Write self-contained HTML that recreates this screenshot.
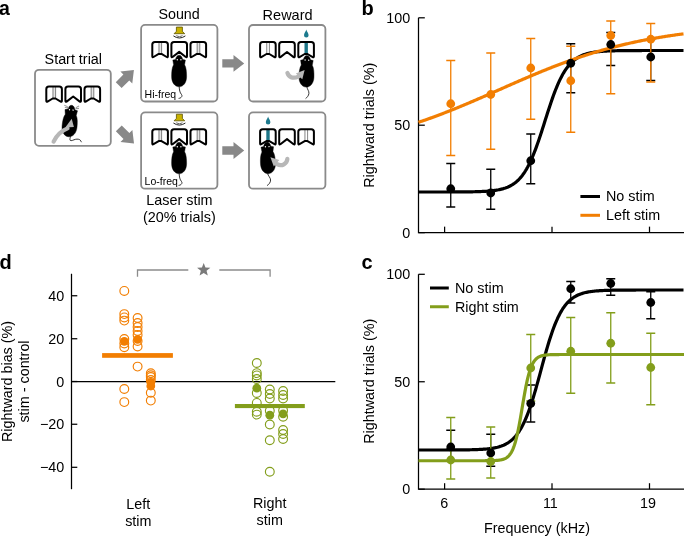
<!DOCTYPE html>
<html><head><meta charset="utf-8"><style>
html,body{margin:0;padding:0;background:#fff;overflow:hidden;}
svg{display:block;will-change:transform;}
text{font-family:"Liberation Sans",sans-serif;fill:#000;}
</style></head><body>
<svg width="685" height="536" viewBox="0 0 685 536">

<text x="-1.0" y="14.6" font-size="19.5" text-anchor="start" font-weight="bold" >a</text>
<text x="361.5" y="14.6" font-size="20" text-anchor="start" font-weight="bold" >b</text>
<text x="361.5" y="269.2" font-size="20" text-anchor="start" font-weight="bold" >c</text>
<text x="-0.5" y="269.0" font-size="20" text-anchor="start" font-weight="bold" >d</text>
<path d="M418.5,17.8V232.65H684" stroke="#000" stroke-width="1.25" fill="none"/>
<path d="M418.5,17.8H424.8" stroke="#000" stroke-width="1.25"/>
<path d="M418.5,125.2H424.8" stroke="#000" stroke-width="1.25"/>
<path d="M418.5,232.65H424.8" stroke="#000" stroke-width="1.25"/>
<path d="M444.6,232.65V226.65" stroke="#000" stroke-width="1.25"/>
<path d="M552.0,232.65V226.65" stroke="#000" stroke-width="1.25"/>
<path d="M649.5,232.65V226.65" stroke="#000" stroke-width="1.25"/>
<text x="410.2" y="22.8" font-size="14.35" text-anchor="end" font-weight="normal" >100</text>
<text x="410.2" y="130.2" font-size="14.35" text-anchor="end" font-weight="normal" >50</text>
<text x="410.2" y="237.65" font-size="14.35" text-anchor="end" font-weight="normal" >0</text>
<text transform="translate(373.8,125.3) rotate(-90)" font-size="14.35" text-anchor="middle">Rightward trials (%)</text>
<path d="M450.75,163.5V207M446.25,163.5H455.25M446.25,207H455.25" stroke="#000" stroke-width="1.3" fill="none"/>
<path d="M490.75,169.25V209.25M486.25,169.25H495.25M486.25,209.25H495.25" stroke="#000" stroke-width="1.3" fill="none"/>
<path d="M530.75,134V183.75M526.25,134H535.25M526.25,183.75H535.25" stroke="#000" stroke-width="1.3" fill="none"/>
<path d="M570.75,43.75V92.75M566.25,43.75H575.25M566.25,92.75H575.25" stroke="#000" stroke-width="1.3" fill="none"/>
<path d="M610.75,32.5V65.5M606.25,32.5H615.25M606.25,65.5H615.25" stroke="#000" stroke-width="1.3" fill="none"/>
<path d="M650.75,39.5V80.5M646.25,39.5H655.25M646.25,80.5H655.25" stroke="#000" stroke-width="1.3" fill="none"/>
<polyline points="418.5,192.00 419.5,192.00 420.5,192.00 421.5,192.00 422.5,192.00 423.5,192.00 424.5,192.00 425.5,192.00 426.5,192.00 427.5,192.00 428.5,192.00 429.5,192.00 430.5,191.99 431.5,191.99 432.5,191.99 433.5,191.99 434.5,191.99 435.5,191.99 436.5,191.99 437.5,191.99 438.5,191.99 439.5,191.99 440.5,191.99 441.5,191.99 442.5,191.98 443.5,191.98 444.5,191.98 445.5,191.98 446.5,191.98 447.5,191.98 448.5,191.97 449.5,191.97 450.5,191.97 451.5,191.97 452.5,191.96 453.5,191.96 454.5,191.96 455.5,191.95 456.5,191.95 457.5,191.94 458.5,191.94 459.5,191.93 460.5,191.93 461.5,191.92 462.5,191.91 463.5,191.90 464.5,191.89 465.5,191.88 466.5,191.87 467.5,191.86 468.5,191.85 469.5,191.83 470.5,191.82 471.5,191.80 472.5,191.78 473.5,191.76 474.5,191.74 475.5,191.71 476.5,191.69 477.5,191.66 478.5,191.63 479.5,191.59 480.5,191.55 481.5,191.51 482.5,191.47 483.5,191.42 484.5,191.36 485.5,191.30 486.5,191.24 487.5,191.17 488.5,191.09 489.5,191.01 490.5,190.91 491.5,190.81 492.5,190.70 493.5,190.58 494.5,190.45 495.5,190.31 496.5,190.15 497.5,189.98 498.5,189.80 499.5,189.59 500.5,189.37 501.5,189.13 502.5,188.87 503.5,188.59 504.5,188.27 505.5,187.94 506.5,187.57 507.5,187.17 508.5,186.73 509.5,186.26 510.5,185.75 511.5,185.19 512.5,184.59 513.5,183.93 514.5,183.23 515.5,182.46 516.5,181.64 517.5,180.75 518.5,179.78 519.5,178.75 520.5,177.64 521.5,176.44 522.5,175.16 523.5,173.79 524.5,172.32 525.5,170.76 526.5,169.09 527.5,167.33 528.5,165.45 529.5,163.47 530.5,161.38 531.5,159.18 532.5,156.88 533.5,154.46 534.5,151.95 535.5,149.33 536.5,146.62 537.5,143.83 538.5,140.95 539.5,138.00 540.5,134.98 541.5,131.92 542.5,128.81 543.5,125.67 544.5,122.51 545.5,119.35 546.5,116.20 547.5,113.07 548.5,109.97 549.5,106.91 550.5,103.91 551.5,100.97 552.5,98.11 553.5,95.33 554.5,92.64 555.5,90.04 556.5,87.54 557.5,85.15 558.5,82.87 559.5,80.69 560.5,78.62 561.5,76.66 562.5,74.81 563.5,73.06 564.5,71.42 565.5,69.88 566.5,68.43 567.5,67.08 568.5,65.81 569.5,64.64 570.5,63.54 571.5,62.52 572.5,61.57 573.5,60.69 574.5,59.88 575.5,59.13 576.5,58.43 577.5,57.79 578.5,57.19 579.5,56.65 580.5,56.14 581.5,55.68 582.5,55.25 583.5,54.86 584.5,54.49 585.5,54.16 586.5,53.86 587.5,53.58 588.5,53.32 589.5,53.08 590.5,52.86 591.5,52.67 592.5,52.48 593.5,52.32 594.5,52.16 595.5,52.02 596.5,51.89 597.5,51.77 598.5,51.67 599.5,51.57 600.5,51.48 601.5,51.39 602.5,51.32 603.5,51.25 604.5,51.18 605.5,51.13 606.5,51.07 607.5,51.02 608.5,50.98 609.5,50.94 610.5,50.90 611.5,50.87 612.5,50.84 613.5,50.81 614.5,50.78 615.5,50.76 616.5,50.74 617.5,50.71 618.5,50.70 619.5,50.68 620.5,50.66 621.5,50.65 622.5,50.64 623.5,50.63 624.5,50.62 625.5,50.61 626.5,50.60 627.5,50.59 628.5,50.58 629.5,50.57 630.5,50.57 631.5,50.56 632.5,50.56 633.5,50.55 634.5,50.55 635.5,50.54 636.5,50.54 637.5,50.54 638.5,50.53 639.5,50.53 640.5,50.53 641.5,50.53 642.5,50.52 643.5,50.52 644.5,50.52 645.5,50.52 646.5,50.52 647.5,50.51 648.5,50.51 649.5,50.51 650.5,50.51 651.5,50.51 652.5,50.51 653.5,50.51 654.5,50.51 655.5,50.51 656.5,50.51 657.5,50.51 658.5,50.51 659.5,50.51 660.5,50.50 661.5,50.50 662.5,50.50 663.5,50.50 664.5,50.50 665.5,50.50 666.5,50.50 667.5,50.50 668.5,50.50 669.5,50.50 670.5,50.50 671.5,50.50 672.5,50.50 673.5,50.50 674.5,50.50 675.5,50.50 676.5,50.50 677.5,50.50 678.5,50.50 679.5,50.50 680.5,50.50 681.5,50.50 682.5,50.50 683.5,50.50" fill="none" stroke="#000" stroke-width="3.2" stroke-linejoin="round"/>
<path d="M450.75,60.5V155.5M446.25,60.5H455.25M446.25,155.5H455.25" stroke="#F27E02" stroke-width="1.3" fill="none"/>
<path d="M490.75,53V149.25M486.25,53H495.25M486.25,149.25H495.25" stroke="#F27E02" stroke-width="1.3" fill="none"/>
<path d="M530.75,38.5V119.25M526.25,38.5H535.25M526.25,119.25H535.25" stroke="#F27E02" stroke-width="1.3" fill="none"/>
<path d="M570.75,46.25V132.25M566.25,46.25H575.25M566.25,132.25H575.25" stroke="#F27E02" stroke-width="1.3" fill="none"/>
<path d="M610.75,21V93.75M606.25,21H615.25M606.25,93.75H615.25" stroke="#F27E02" stroke-width="1.3" fill="none"/>
<path d="M650.75,23.5V82M646.25,23.5H655.25M646.25,82H655.25" stroke="#F27E02" stroke-width="1.3" fill="none"/>
<polyline points="418.5,122.29 419.5,121.95 420.5,121.61 421.5,121.27 422.5,120.93 423.5,120.59 424.5,120.24 425.5,119.89 426.5,119.54 427.5,119.19 428.5,118.83 429.5,118.48 430.5,118.12 431.5,117.76 432.5,117.39 433.5,117.03 434.5,116.66 435.5,116.29 436.5,115.92 437.5,115.55 438.5,115.17 439.5,114.80 440.5,114.42 441.5,114.04 442.5,113.65 443.5,113.27 444.5,112.88 445.5,112.49 446.5,112.10 447.5,111.71 448.5,111.32 449.5,110.92 450.5,110.53 451.5,110.13 452.5,109.73 453.5,109.33 454.5,108.92 455.5,108.52 456.5,108.11 457.5,107.70 458.5,107.29 459.5,106.88 460.5,106.47 461.5,106.05 462.5,105.64 463.5,105.22 464.5,104.80 465.5,104.38 466.5,103.96 467.5,103.54 468.5,103.12 469.5,102.70 470.5,102.27 471.5,101.84 472.5,101.42 473.5,100.99 474.5,100.56 475.5,100.13 476.5,99.70 477.5,99.26 478.5,98.83 479.5,98.40 480.5,97.96 481.5,97.53 482.5,97.09 483.5,96.65 484.5,96.22 485.5,95.78 486.5,95.34 487.5,94.90 488.5,94.46 489.5,94.02 490.5,93.58 491.5,93.14 492.5,92.70 493.5,92.26 494.5,91.82 495.5,91.38 496.5,90.93 497.5,90.49 498.5,90.05 499.5,89.61 500.5,89.17 501.5,88.72 502.5,88.28 503.5,87.84 504.5,87.40 505.5,86.96 506.5,86.52 507.5,86.08 508.5,85.64 509.5,85.19 510.5,84.76 511.5,84.32 512.5,83.88 513.5,83.44 514.5,83.00 515.5,82.56 516.5,82.13 517.5,81.69 518.5,81.25 519.5,80.82 520.5,80.39 521.5,79.95 522.5,79.52 523.5,79.09 524.5,78.66 525.5,78.23 526.5,77.80 527.5,77.37 528.5,76.95 529.5,76.52 530.5,76.10 531.5,75.67 532.5,75.25 533.5,74.83 534.5,74.41 535.5,73.99 536.5,73.58 537.5,73.16 538.5,72.75 539.5,72.34 540.5,71.92 541.5,71.51 542.5,71.11 543.5,70.70 544.5,70.29 545.5,69.89 546.5,69.49 547.5,69.09 548.5,68.69 549.5,68.29 550.5,67.90 551.5,67.50 552.5,67.11 553.5,66.72 554.5,66.33 555.5,65.95 556.5,65.56 557.5,65.18 558.5,64.80 559.5,64.42 560.5,64.04 561.5,63.67 562.5,63.29 563.5,62.92 564.5,62.55 565.5,62.19 566.5,61.82 567.5,61.46 568.5,61.10 569.5,60.74 570.5,60.38 571.5,60.02 572.5,59.67 573.5,59.32 574.5,58.97 575.5,58.63 576.5,58.28 577.5,57.94 578.5,57.60 579.5,57.26 580.5,56.93 581.5,56.59 582.5,56.26 583.5,55.93 584.5,55.61 585.5,55.28 586.5,54.96 587.5,54.64 588.5,54.32 589.5,54.01 590.5,53.70 591.5,53.38 592.5,53.08 593.5,52.77 594.5,52.47 595.5,52.16 596.5,51.86 597.5,51.57 598.5,51.27 599.5,50.98 600.5,50.69 601.5,50.40 602.5,50.11 603.5,49.83 604.5,49.55 605.5,49.27 606.5,48.99 607.5,48.72 608.5,48.45 609.5,48.18 610.5,47.91 611.5,47.64 612.5,47.38 613.5,47.12 614.5,46.86 615.5,46.60 616.5,46.35 617.5,46.10 618.5,45.85 619.5,45.60 620.5,45.35 621.5,45.11 622.5,44.87 623.5,44.63 624.5,44.39 625.5,44.16 626.5,43.92 627.5,43.69 628.5,43.47 629.5,43.24 630.5,43.01 631.5,42.79 632.5,42.57 633.5,42.35 634.5,42.14 635.5,41.93 636.5,41.71 637.5,41.50 638.5,41.30 639.5,41.09 640.5,40.89 641.5,40.68 642.5,40.49 643.5,40.29 644.5,40.09 645.5,39.90 646.5,39.71 647.5,39.52 648.5,39.33 649.5,39.14 650.5,38.96 651.5,38.77 652.5,38.59 653.5,38.42 654.5,38.24 655.5,38.06 656.5,37.89 657.5,37.72 658.5,37.55 659.5,37.38 660.5,37.22 661.5,37.05 662.5,36.89 663.5,36.73 664.5,36.57 665.5,36.41 666.5,36.25 667.5,36.10 668.5,35.95 669.5,35.80 670.5,35.65 671.5,35.50 672.5,35.35 673.5,35.21 674.5,35.07 675.5,34.93 676.5,34.79 677.5,34.65 678.5,34.51 679.5,34.38 680.5,34.24 681.5,34.11 682.5,33.98 683.5,33.85" fill="none" stroke="#F27E02" stroke-width="3.2" stroke-linejoin="round"/>
<circle cx="450.75" cy="188.75" r="4.4" fill="#000"/>
<circle cx="490.75" cy="193" r="4.4" fill="#000"/>
<circle cx="530.75" cy="160.75" r="4.4" fill="#000"/>
<circle cx="570.75" cy="63.25" r="4.4" fill="#000"/>
<circle cx="610.75" cy="44.5" r="4.4" fill="#000"/>
<circle cx="650.75" cy="57" r="4.4" fill="#000"/>
<circle cx="450.75" cy="103.75" r="4.4" fill="#F27E02"/>
<circle cx="490.75" cy="94.5" r="4.4" fill="#F27E02"/>
<circle cx="530.75" cy="68" r="4.4" fill="#F27E02"/>
<circle cx="570.75" cy="80.75" r="4.4" fill="#F27E02"/>
<circle cx="610.75" cy="35.5" r="4.4" fill="#F27E02"/>
<circle cx="650.75" cy="39.25" r="4.4" fill="#F27E02"/>
<path d="M580.4,196.5H600" stroke="#000" stroke-width="3"/>
<path d="M580.4,215.3H600" stroke="#F27E02" stroke-width="3"/>
<text x="606.0" y="201.4" font-size="14.35" text-anchor="start" font-weight="normal" >No stim</text>
<text x="606.0" y="219.8" font-size="14.35" text-anchor="start" font-weight="normal" >Left stim</text>
<path d="M418.5,274.3V489.2H684" stroke="#000" stroke-width="1.25" fill="none"/>
<path d="M418.5,274.3H424.8" stroke="#000" stroke-width="1.25"/>
<path d="M418.5,381.75H424.8" stroke="#000" stroke-width="1.25"/>
<path d="M418.5,489.2H424.8" stroke="#000" stroke-width="1.25"/>
<path d="M444.6,489.2V483.2" stroke="#000" stroke-width="1.25"/>
<path d="M552.0,489.2V483.2" stroke="#000" stroke-width="1.25"/>
<path d="M649.5,489.2V483.2" stroke="#000" stroke-width="1.25"/>
<text x="410.2" y="279.3" font-size="14.35" text-anchor="end" font-weight="normal" >100</text>
<text x="410.2" y="386.75" font-size="14.35" text-anchor="end" font-weight="normal" >50</text>
<text x="410.2" y="494.2" font-size="14.35" text-anchor="end" font-weight="normal" >0</text>
<text transform="translate(373.8,381.25) rotate(-90)" font-size="14.35" text-anchor="middle">Rightward trials (%)</text>
<text x="444.2" y="508.2" font-size="14.35" text-anchor="middle" font-weight="normal" >6</text>
<text x="550.4" y="508.2" font-size="14.35" text-anchor="middle" font-weight="normal" >11</text>
<text x="648.0" y="508.2" font-size="14.35" text-anchor="middle" font-weight="normal" >19</text>
<text x="484.0" y="532.6" font-size="14.35" text-anchor="start" font-weight="normal" >Frequency (kHz)</text>
<path d="M450.75,430.25V461M446.25,430.25H455.25M446.25,461H455.25" stroke="#000" stroke-width="1.3" fill="none"/>
<path d="M490.75,434.25V466.25M486.25,434.25H495.25M486.25,466.25H495.25" stroke="#000" stroke-width="1.3" fill="none"/>
<path d="M530.75,385V422M526.25,385H535.25M526.25,422H535.25" stroke="#000" stroke-width="1.3" fill="none"/>
<path d="M570.75,281.5V303M566.25,281.5H575.25M566.25,303H575.25" stroke="#000" stroke-width="1.3" fill="none"/>
<path d="M610.75,278.75V295.25M606.25,278.75H615.25M606.25,295.25H615.25" stroke="#000" stroke-width="1.3" fill="none"/>
<path d="M650.75,291.75V318.75M646.25,291.75H655.25M646.25,318.75H655.25" stroke="#000" stroke-width="1.3" fill="none"/>
<polyline points="418.5,450.00 419.5,450.00 420.5,450.00 421.5,450.00 422.5,450.00 423.5,450.00 424.5,450.00 425.5,450.00 426.5,450.00 427.5,450.00 428.5,450.00 429.5,449.99 430.5,449.99 431.5,449.99 432.5,449.99 433.5,449.99 434.5,449.99 435.5,449.99 436.5,449.99 437.5,449.99 438.5,449.99 439.5,449.99 440.5,449.99 441.5,449.98 442.5,449.98 443.5,449.98 444.5,449.98 445.5,449.98 446.5,449.97 447.5,449.97 448.5,449.97 449.5,449.97 450.5,449.96 451.5,449.96 452.5,449.96 453.5,449.95 454.5,449.95 455.5,449.94 456.5,449.94 457.5,449.93 458.5,449.92 459.5,449.92 460.5,449.91 461.5,449.90 462.5,449.89 463.5,449.88 464.5,449.87 465.5,449.85 466.5,449.84 467.5,449.82 468.5,449.81 469.5,449.79 470.5,449.77 471.5,449.74 472.5,449.72 473.5,449.69 474.5,449.66 475.5,449.63 476.5,449.59 477.5,449.55 478.5,449.51 479.5,449.46 480.5,449.41 481.5,449.35 482.5,449.29 483.5,449.22 484.5,449.15 485.5,449.07 486.5,448.98 487.5,448.88 488.5,448.77 489.5,448.65 490.5,448.52 491.5,448.38 492.5,448.23 493.5,448.06 494.5,447.87 495.5,447.67 496.5,447.44 497.5,447.20 498.5,446.93 499.5,446.64 500.5,446.32 501.5,445.98 502.5,445.60 503.5,445.18 504.5,444.73 505.5,444.24 506.5,443.70 507.5,443.12 508.5,442.48 509.5,441.79 510.5,441.03 511.5,440.22 512.5,439.33 513.5,438.37 514.5,437.33 515.5,436.21 516.5,435.00 517.5,433.69 518.5,432.28 519.5,430.77 520.5,429.15 521.5,427.41 522.5,425.56 523.5,423.58 524.5,421.47 525.5,419.23 526.5,416.87 527.5,414.37 528.5,411.74 529.5,408.98 530.5,406.09 531.5,403.08 532.5,399.95 533.5,396.71 534.5,393.37 535.5,389.94 536.5,386.43 537.5,382.85 538.5,379.22 539.5,375.55 540.5,371.85 541.5,368.15 542.5,364.45 543.5,360.78 544.5,357.15 545.5,353.57 546.5,350.06 547.5,346.63 548.5,343.29 549.5,340.05 550.5,336.92 551.5,333.91 552.5,331.02 553.5,328.26 554.5,325.63 555.5,323.13 556.5,320.77 557.5,318.53 558.5,316.42 559.5,314.44 560.5,312.59 561.5,310.85 562.5,309.23 563.5,307.72 564.5,306.31 565.5,305.00 566.5,303.79 567.5,302.67 568.5,301.63 569.5,300.67 570.5,299.78 571.5,298.97 572.5,298.21 573.5,297.52 574.5,296.88 575.5,296.30 576.5,295.76 577.5,295.27 578.5,294.82 579.5,294.40 580.5,294.02 581.5,293.68 582.5,293.36 583.5,293.07 584.5,292.80 585.5,292.56 586.5,292.33 587.5,292.13 588.5,291.94 589.5,291.77 590.5,291.62 591.5,291.48 592.5,291.35 593.5,291.23 594.5,291.12 595.5,291.02 596.5,290.93 597.5,290.85 598.5,290.78 599.5,290.71 600.5,290.65 601.5,290.59 602.5,290.54 603.5,290.49 604.5,290.45 605.5,290.41 606.5,290.37 607.5,290.34 608.5,290.31 609.5,290.28 610.5,290.26 611.5,290.23 612.5,290.21 613.5,290.19 614.5,290.18 615.5,290.16 616.5,290.15 617.5,290.13 618.5,290.12 619.5,290.11 620.5,290.10 621.5,290.09 622.5,290.08 623.5,290.08 624.5,290.07 625.5,290.06 626.5,290.06 627.5,290.05 628.5,290.05 629.5,290.04 630.5,290.04 631.5,290.04 632.5,290.03 633.5,290.03 634.5,290.03 635.5,290.03 636.5,290.02 637.5,290.02 638.5,290.02 639.5,290.02 640.5,290.02 641.5,290.01 642.5,290.01 643.5,290.01 644.5,290.01 645.5,290.01 646.5,290.01 647.5,290.01 648.5,290.01 649.5,290.01 650.5,290.01 651.5,290.01 652.5,290.01 653.5,290.00 654.5,290.00 655.5,290.00 656.5,290.00 657.5,290.00 658.5,290.00 659.5,290.00 660.5,290.00 661.5,290.00 662.5,290.00 663.5,290.00 664.5,290.00 665.5,290.00 666.5,290.00 667.5,290.00 668.5,290.00 669.5,290.00 670.5,290.00 671.5,290.00 672.5,290.00 673.5,290.00 674.5,290.00 675.5,290.00 676.5,290.00 677.5,290.00 678.5,290.00 679.5,290.00 680.5,290.00 681.5,290.00 682.5,290.00 683.5,290.00" fill="none" stroke="#000" stroke-width="3.2" stroke-linejoin="round"/>
<path d="M450.75,417.5V479M446.25,417.5H455.25M446.25,479H455.25" stroke="#839E1B" stroke-width="1.3" fill="none"/>
<path d="M490.75,427V478M486.25,427H495.25M486.25,478H495.25" stroke="#839E1B" stroke-width="1.3" fill="none"/>
<path d="M530.75,334.5V401M526.25,334.5H535.25M526.25,401H535.25" stroke="#839E1B" stroke-width="1.3" fill="none"/>
<path d="M570.75,317.5V393.25M566.25,317.5H575.25M566.25,393.25H575.25" stroke="#839E1B" stroke-width="1.3" fill="none"/>
<path d="M610.75,312.75V383M606.25,312.75H615.25M606.25,383H615.25" stroke="#839E1B" stroke-width="1.3" fill="none"/>
<path d="M650.75,333.25V404.75M646.25,333.25H655.25M646.25,404.75H655.25" stroke="#839E1B" stroke-width="1.3" fill="none"/>
<polyline points="418.5,460.75 419.0,460.75 419.5,460.75 420.0,460.75 420.5,460.75 421.0,460.75 421.5,460.75 422.0,460.75 422.5,460.75 423.0,460.75 423.5,460.75 424.0,460.75 424.5,460.75 425.0,460.75 425.5,460.75 426.0,460.75 426.5,460.75 427.0,460.75 427.5,460.75 428.0,460.75 428.5,460.75 429.0,460.75 429.5,460.75 430.0,460.75 430.5,460.75 431.0,460.75 431.5,460.75 432.0,460.75 432.5,460.75 433.0,460.75 433.5,460.75 434.0,460.75 434.5,460.75 435.0,460.75 435.5,460.75 436.0,460.75 436.5,460.75 437.0,460.75 437.5,460.75 438.0,460.75 438.5,460.75 439.0,460.75 439.5,460.75 440.0,460.75 440.5,460.75 441.0,460.75 441.5,460.75 442.0,460.75 442.5,460.75 443.0,460.75 443.5,460.75 444.0,460.75 444.5,460.75 445.0,460.75 445.5,460.75 446.0,460.75 446.5,460.75 447.0,460.75 447.5,460.75 448.0,460.75 448.5,460.75 449.0,460.75 449.5,460.75 450.0,460.75 450.5,460.75 451.0,460.75 451.5,460.75 452.0,460.75 452.5,460.75 453.0,460.75 453.5,460.75 454.0,460.75 454.5,460.75 455.0,460.75 455.5,460.75 456.0,460.75 456.5,460.75 457.0,460.75 457.5,460.75 458.0,460.75 458.5,460.75 459.0,460.75 459.5,460.75 460.0,460.75 460.5,460.75 461.0,460.75 461.5,460.75 462.0,460.75 462.5,460.75 463.0,460.75 463.5,460.75 464.0,460.75 464.5,460.75 465.0,460.75 465.5,460.75 466.0,460.75 466.5,460.75 467.0,460.75 467.5,460.75 468.0,460.75 468.5,460.75 469.0,460.75 469.5,460.75 470.0,460.75 470.5,460.75 471.0,460.75 471.5,460.75 472.0,460.75 472.5,460.75 473.0,460.75 473.5,460.75 474.0,460.75 474.5,460.75 475.0,460.75 475.5,460.75 476.0,460.75 476.5,460.75 477.0,460.75 477.5,460.75 478.0,460.74 478.5,460.74 479.0,460.74 479.5,460.74 480.0,460.74 480.5,460.74 481.0,460.74 481.5,460.74 482.0,460.74 482.5,460.74 483.0,460.73 483.5,460.73 484.0,460.73 484.5,460.73 485.0,460.73 485.5,460.72 486.0,460.72 486.5,460.72 487.0,460.71 487.5,460.71 488.0,460.70 488.5,460.70 489.0,460.69 489.5,460.68 490.0,460.67 490.5,460.67 491.0,460.66 491.5,460.64 492.0,460.63 492.5,460.62 493.0,460.60 493.5,460.58 494.0,460.56 494.5,460.54 495.0,460.52 495.5,460.49 496.0,460.46 496.5,460.43 497.0,460.39 497.5,460.34 498.0,460.30 498.5,460.24 499.0,460.18 499.5,460.11 500.0,460.04 500.5,459.95 501.0,459.86 501.5,459.76 502.0,459.64 502.5,459.51 503.0,459.36 503.5,459.20 504.0,459.02 504.5,458.81 505.0,458.59 505.5,458.34 506.0,458.05 506.5,457.74 507.0,457.40 507.5,457.01 508.0,456.58 508.5,456.11 509.0,455.58 509.5,455.00 510.0,454.35 510.5,453.64 511.0,452.86 511.5,451.99 512.0,451.04 512.5,450.00 513.0,448.87 513.5,447.63 514.0,446.27 514.5,444.81 515.0,443.22 515.5,441.51 516.0,439.67 516.5,437.70 517.0,435.61 517.5,433.38 518.0,431.03 518.5,428.56 519.0,425.98 519.5,423.30 520.0,420.52 520.5,417.67 521.0,414.76 521.5,411.80 522.0,408.82 522.5,405.83 523.0,402.85 523.5,399.90 524.0,397.00 524.5,394.16 525.0,391.41 525.5,388.74 526.0,386.18 526.5,383.74 527.0,381.41 527.5,379.21 528.0,377.14 528.5,375.20 529.0,373.39 529.5,371.70 530.0,370.14 530.5,368.70 531.0,367.37 531.5,366.15 532.0,365.03 532.5,364.01 533.0,363.08 533.5,362.23 534.0,361.46 534.5,360.76 535.0,360.13 535.5,359.56 536.0,359.04 536.5,358.58 537.0,358.16 537.5,357.78 538.0,357.44 538.5,357.14 539.0,356.86 539.5,356.62 540.0,356.39 540.5,356.20 541.0,356.02 541.5,355.86 542.0,355.72 542.5,355.59 543.0,355.47 543.5,355.37 544.0,355.28 544.5,355.20 545.0,355.12 545.5,355.06 546.0,355.00 546.5,354.94 547.0,354.90 547.5,354.85 548.0,354.82 548.5,354.78 549.0,354.75 549.5,354.73 550.0,354.70 550.5,354.68 551.0,354.66 551.5,354.64 552.0,354.63 552.5,354.62 553.0,354.60 553.5,354.59 554.0,354.58 554.5,354.57 555.0,354.57 555.5,354.56 556.0,354.55 556.5,354.55 557.0,354.54 557.5,354.54 558.0,354.53 558.5,354.53 559.0,354.53 559.5,354.52 560.0,354.52 560.5,354.52 561.0,354.52 561.5,354.52 562.0,354.51 562.5,354.51 563.0,354.51 563.5,354.51 564.0,354.51 564.5,354.51 565.0,354.51 565.5,354.51 566.0,354.51 566.5,354.50 567.0,354.50 567.5,354.50 568.0,354.50 568.5,354.50 569.0,354.50 569.5,354.50 570.0,354.50 570.5,354.50 571.0,354.50 571.5,354.50 572.0,354.50 572.5,354.50 573.0,354.50 573.5,354.50 574.0,354.50 574.5,354.50 575.0,354.50 575.5,354.50 576.0,354.50 576.5,354.50 577.0,354.50 577.5,354.50 578.0,354.50 578.5,354.50 579.0,354.50 579.5,354.50 580.0,354.50 580.5,354.50 581.0,354.50 581.5,354.50 582.0,354.50 582.5,354.50 583.0,354.50 583.5,354.50 584.0,354.50 584.5,354.50 585.0,354.50 585.5,354.50 586.0,354.50 586.5,354.50 587.0,354.50 587.5,354.50 588.0,354.50 588.5,354.50 589.0,354.50 589.5,354.50 590.0,354.50 590.5,354.50 591.0,354.50 591.5,354.50 592.0,354.50 592.5,354.50 593.0,354.50 593.5,354.50 594.0,354.50 594.5,354.50 595.0,354.50 595.5,354.50 596.0,354.50 596.5,354.50 597.0,354.50 597.5,354.50 598.0,354.50 598.5,354.50 599.0,354.50 599.5,354.50 600.0,354.50 600.5,354.50 601.0,354.50 601.5,354.50 602.0,354.50 602.5,354.50 603.0,354.50 603.5,354.50 604.0,354.50 604.5,354.50 605.0,354.50 605.5,354.50 606.0,354.50 606.5,354.50 607.0,354.50 607.5,354.50 608.0,354.50 608.5,354.50 609.0,354.50 609.5,354.50 610.0,354.50 610.5,354.50 611.0,354.50 611.5,354.50 612.0,354.50 612.5,354.50 613.0,354.50 613.5,354.50 614.0,354.50 614.5,354.50 615.0,354.50 615.5,354.50 616.0,354.50 616.5,354.50 617.0,354.50 617.5,354.50 618.0,354.50 618.5,354.50 619.0,354.50 619.5,354.50 620.0,354.50 620.5,354.50 621.0,354.50 621.5,354.50 622.0,354.50 622.5,354.50 623.0,354.50 623.5,354.50 624.0,354.50 624.5,354.50 625.0,354.50 625.5,354.50 626.0,354.50 626.5,354.50 627.0,354.50 627.5,354.50 628.0,354.50 628.5,354.50 629.0,354.50 629.5,354.50 630.0,354.50 630.5,354.50 631.0,354.50 631.5,354.50 632.0,354.50 632.5,354.50 633.0,354.50 633.5,354.50 634.0,354.50 634.5,354.50 635.0,354.50 635.5,354.50 636.0,354.50 636.5,354.50 637.0,354.50 637.5,354.50 638.0,354.50 638.5,354.50 639.0,354.50 639.5,354.50 640.0,354.50 640.5,354.50 641.0,354.50 641.5,354.50 642.0,354.50 642.5,354.50 643.0,354.50 643.5,354.50 644.0,354.50 644.5,354.50 645.0,354.50 645.5,354.50 646.0,354.50 646.5,354.50 647.0,354.50 647.5,354.50 648.0,354.50 648.5,354.50 649.0,354.50 649.5,354.50 650.0,354.50 650.5,354.50 651.0,354.50 651.5,354.50 652.0,354.50 652.5,354.50 653.0,354.50 653.5,354.50 654.0,354.50 654.5,354.50 655.0,354.50 655.5,354.50 656.0,354.50 656.5,354.50 657.0,354.50 657.5,354.50 658.0,354.50 658.5,354.50 659.0,354.50 659.5,354.50 660.0,354.50 660.5,354.50 661.0,354.50 661.5,354.50 662.0,354.50 662.5,354.50 663.0,354.50 663.5,354.50 664.0,354.50 664.5,354.50 665.0,354.50 665.5,354.50 666.0,354.50 666.5,354.50 667.0,354.50 667.5,354.50 668.0,354.50 668.5,354.50 669.0,354.50 669.5,354.50 670.0,354.50 670.5,354.50 671.0,354.50 671.5,354.50 672.0,354.50 672.5,354.50 673.0,354.50 673.5,354.50 674.0,354.50 674.5,354.50 675.0,354.50 675.5,354.50 676.0,354.50 676.5,354.50 677.0,354.50 677.5,354.50 678.0,354.50 678.5,354.50 679.0,354.50 679.5,354.50 680.0,354.50 680.5,354.50 681.0,354.50 681.5,354.50 682.0,354.50 682.5,354.50 683.0,354.50 683.5,354.50 684.0,354.50" fill="none" stroke="#839E1B" stroke-width="3.2" stroke-linejoin="round"/>
<circle cx="450.75" cy="447" r="4.4" fill="#000"/>
<circle cx="490.75" cy="453" r="4.4" fill="#000"/>
<circle cx="530.75" cy="403.5" r="4.4" fill="#000"/>
<circle cx="570.75" cy="288.75" r="4.4" fill="#000"/>
<circle cx="610.75" cy="283.5" r="4.4" fill="#000"/>
<circle cx="650.75" cy="302.5" r="4.4" fill="#000"/>
<circle cx="450.75" cy="460" r="4.4" fill="#839E1B"/>
<circle cx="490.75" cy="461.5" r="4.4" fill="#839E1B"/>
<circle cx="530.75" cy="368" r="4.4" fill="#839E1B"/>
<circle cx="570.75" cy="351.25" r="4.4" fill="#839E1B"/>
<circle cx="610.75" cy="343.25" r="4.4" fill="#839E1B"/>
<circle cx="650.75" cy="367.5" r="4.4" fill="#839E1B"/>
<path d="M430,288H448.8" stroke="#000" stroke-width="3"/>
<path d="M430,306.75H448.8" stroke="#839E1B" stroke-width="3"/>
<text x="455.0" y="293.0" font-size="14.35" text-anchor="start" font-weight="normal" >No stim</text>
<text x="455.0" y="311.6" font-size="14.35" text-anchor="start" font-weight="normal" >Right stim</text>
<path d="M71.5,273.75V489.2" stroke="#000" stroke-width="1.25" fill="none"/>
<path d="M71.5,295.75H77.3" stroke="#000" stroke-width="1.25"/>
<text x="64.3" y="300.75" font-size="14.35" text-anchor="end" font-weight="normal" >40</text>
<path d="M71.5,338.75H77.3" stroke="#000" stroke-width="1.25"/>
<text x="64.3" y="343.75" font-size="14.35" text-anchor="end" font-weight="normal" >20</text>
<path d="M71.5,381.5H77.3" stroke="#000" stroke-width="1.25"/>
<text x="64.3" y="386.5" font-size="14.35" text-anchor="end" font-weight="normal" >0</text>
<path d="M71.5,424.25H77.3" stroke="#000" stroke-width="1.25"/>
<text x="64.3" y="429.25" font-size="14.35" text-anchor="end" font-weight="normal" >−20</text>
<path d="M71.5,467.3H77.3" stroke="#000" stroke-width="1.25"/>
<text x="64.3" y="472.3" font-size="14.35" text-anchor="end" font-weight="normal" >−40</text>
<path d="M71.5,381.6H335.3" stroke="#000" stroke-width="1.3"/>
<text transform="translate(12.4,381.5) rotate(-90)" font-size="14.35" text-anchor="middle">Rightward bias (%)</text>
<text transform="translate(29.2,381.5) rotate(-90)" font-size="14.35" text-anchor="middle">stim - control</text>
<path d="M137.5,276.8V270H188.3M219.3,270H270.1V276.8" stroke="#8c8c8c" stroke-width="1.3" fill="none"/>
<polygon points="203.70,262.90 205.46,267.47 210.36,267.74 206.55,270.83 207.81,275.56 203.70,272.90 199.59,275.56 200.85,270.83 197.04,267.74 201.94,267.47" fill="#7a7a7a"/>
<circle cx="124.3" cy="290.9" r="4.4" fill="none" stroke="#F27E02" stroke-width="1.15"/>
<circle cx="124.3" cy="314.1" r="4.4" fill="none" stroke="#F27E02" stroke-width="1.15"/>
<circle cx="124.3" cy="317.4" r="4.4" fill="none" stroke="#F27E02" stroke-width="1.15"/>
<circle cx="124.3" cy="320.6" r="4.4" fill="none" stroke="#F27E02" stroke-width="1.15"/>
<circle cx="124.3" cy="339" r="4.4" fill="none" stroke="#F27E02" stroke-width="1.15"/>
<circle cx="124.3" cy="343.5" r="4.4" fill="none" stroke="#F27E02" stroke-width="1.15"/>
<circle cx="124.3" cy="347.3" r="4.4" fill="none" stroke="#F27E02" stroke-width="1.15"/>
<circle cx="124.3" cy="389" r="4.4" fill="none" stroke="#F27E02" stroke-width="1.15"/>
<circle cx="124.3" cy="402.1" r="4.4" fill="none" stroke="#F27E02" stroke-width="1.15"/>
<circle cx="137.6" cy="318" r="4.4" fill="none" stroke="#F27E02" stroke-width="1.15"/>
<circle cx="137.6" cy="323" r="4.4" fill="none" stroke="#F27E02" stroke-width="1.15"/>
<circle cx="137.6" cy="327" r="4.4" fill="none" stroke="#F27E02" stroke-width="1.15"/>
<circle cx="137.6" cy="331" r="4.4" fill="none" stroke="#F27E02" stroke-width="1.15"/>
<circle cx="137.6" cy="335" r="4.4" fill="none" stroke="#F27E02" stroke-width="1.15"/>
<circle cx="137.6" cy="341" r="4.4" fill="none" stroke="#F27E02" stroke-width="1.15"/>
<circle cx="137.6" cy="346.4" r="4.4" fill="none" stroke="#F27E02" stroke-width="1.15"/>
<circle cx="137.6" cy="366.6" r="4.4" fill="none" stroke="#F27E02" stroke-width="1.15"/>
<circle cx="150.8" cy="373.2" r="4.4" fill="none" stroke="#F27E02" stroke-width="1.15"/>
<circle cx="150.8" cy="375.3" r="4.4" fill="none" stroke="#F27E02" stroke-width="1.15"/>
<circle cx="150.8" cy="377" r="4.4" fill="none" stroke="#F27E02" stroke-width="1.15"/>
<circle cx="150.8" cy="380" r="4.4" fill="none" stroke="#F27E02" stroke-width="1.15"/>
<circle cx="150.8" cy="392.8" r="4.4" fill="none" stroke="#F27E02" stroke-width="1.15"/>
<circle cx="150.8" cy="400.6" r="4.4" fill="none" stroke="#F27E02" stroke-width="1.15"/>
<circle cx="124.3" cy="341.3" r="4.4" fill="#F27E02"/>
<circle cx="137.6" cy="339.3" r="4.4" fill="#F27E02"/>
<circle cx="150.8" cy="382.3" r="4.4" fill="#F27E02"/>
<circle cx="150.8" cy="386.0" r="4.4" fill="#F27E02"/>
<rect x="102.1" y="353.1" width="70.8" height="4.7" fill="#F27E02"/>
<circle cx="256.8" cy="363" r="4.4" fill="none" stroke="#839E1B" stroke-width="1.15"/>
<circle cx="256.8" cy="373.1" r="4.4" fill="none" stroke="#839E1B" stroke-width="1.15"/>
<circle cx="256.8" cy="375.4" r="4.4" fill="none" stroke="#839E1B" stroke-width="1.15"/>
<circle cx="256.8" cy="379" r="4.4" fill="none" stroke="#839E1B" stroke-width="1.15"/>
<circle cx="256.8" cy="393" r="4.4" fill="none" stroke="#839E1B" stroke-width="1.15"/>
<circle cx="256.8" cy="402.9" r="4.4" fill="none" stroke="#839E1B" stroke-width="1.15"/>
<circle cx="256.8" cy="411.7" r="4.4" fill="none" stroke="#839E1B" stroke-width="1.15"/>
<circle cx="256.8" cy="414.6" r="4.4" fill="none" stroke="#839E1B" stroke-width="1.15"/>
<circle cx="269.8" cy="389.5" r="4.4" fill="none" stroke="#839E1B" stroke-width="1.15"/>
<circle cx="269.8" cy="394" r="4.4" fill="none" stroke="#839E1B" stroke-width="1.15"/>
<circle cx="269.8" cy="398.5" r="4.4" fill="none" stroke="#839E1B" stroke-width="1.15"/>
<circle cx="269.8" cy="410.8" r="4.4" fill="none" stroke="#839E1B" stroke-width="1.15"/>
<circle cx="269.8" cy="424.5" r="4.4" fill="none" stroke="#839E1B" stroke-width="1.15"/>
<circle cx="269.8" cy="440.3" r="4.4" fill="none" stroke="#839E1B" stroke-width="1.15"/>
<circle cx="269.8" cy="471.7" r="4.4" fill="none" stroke="#839E1B" stroke-width="1.15"/>
<circle cx="283.1" cy="391" r="4.4" fill="none" stroke="#839E1B" stroke-width="1.15"/>
<circle cx="283.1" cy="395" r="4.4" fill="none" stroke="#839E1B" stroke-width="1.15"/>
<circle cx="283.1" cy="398.4" r="4.4" fill="none" stroke="#839E1B" stroke-width="1.15"/>
<circle cx="283.1" cy="410.5" r="4.4" fill="none" stroke="#839E1B" stroke-width="1.15"/>
<circle cx="283.1" cy="416.8" r="4.4" fill="none" stroke="#839E1B" stroke-width="1.15"/>
<circle cx="283.1" cy="430" r="4.4" fill="none" stroke="#839E1B" stroke-width="1.15"/>
<circle cx="283.1" cy="434" r="4.4" fill="none" stroke="#839E1B" stroke-width="1.15"/>
<circle cx="283.1" cy="439" r="4.4" fill="none" stroke="#839E1B" stroke-width="1.15"/>
<circle cx="256.8" cy="388.2" r="4.4" fill="#839E1B"/>
<circle cx="269.8" cy="415.2" r="4.4" fill="#839E1B"/>
<circle cx="283.1" cy="413.8" r="4.4" fill="#839E1B"/>
<rect x="234.9" y="404.0" width="69.9" height="4.1" fill="#839E1B"/>
<text x="138.3" y="508.7" font-size="14.35" text-anchor="middle" font-weight="normal" >Left</text>
<text x="138.3" y="525.6" font-size="14.35" text-anchor="middle" font-weight="normal" >stim</text>
<text x="269.7" y="508.0" font-size="14.35" text-anchor="middle" font-weight="normal" >Right</text>
<text x="269.7" y="524.8" font-size="14.35" text-anchor="middle" font-weight="normal" >stim</text>
<rect x="35.0" y="69.8" width="75.8" height="76.0" rx="4" fill="none" stroke="#8a8a8a" stroke-width="1.8"/>
<rect x="141.1" y="24.9" width="76.3" height="76.6" rx="4" fill="none" stroke="#8a8a8a" stroke-width="1.8"/>
<rect x="249.0" y="25.0" width="76.4" height="76.5" rx="4" fill="none" stroke="#8a8a8a" stroke-width="1.8"/>
<rect x="141.1" y="112.4" width="76.3" height="76.3" rx="4" fill="none" stroke="#8a8a8a" stroke-width="1.8"/>
<rect x="249.0" y="112.4" width="76.4" height="76.3" rx="4" fill="none" stroke="#8a8a8a" stroke-width="1.8"/>
<path d="M222.3,59.25H233.5V55.0L244.2,63.4L233.5,71.8V67.55H222.3Z" fill="#888"/>
<path d="M222.3,146.35H233.5V142.1L244.2,150.5L233.5,158.9V154.65H222.3Z" fill="#888"/>
<path d="M112.4,65.75H123.2V61.50000000000001L133.9,69.9L123.2,78.30000000000001V74.05000000000001H112.4Z" fill="#888" transform="rotate(-45 133.9 69.9)"/>
<path d="M112.5,139.45H123.3V135.2L134.0,143.6L123.3,152.0V147.75H112.5Z" fill="#888" transform="rotate(45 134.0 143.6)"/>
<text x="73.3" y="64.2" font-size="14.35" text-anchor="middle" font-weight="normal" >Start trial</text>
<text x="179.1" y="19.3" font-size="14.3" text-anchor="middle" font-weight="normal" >Sound</text>
<text x="287.6" y="19.6" font-size="14.5" text-anchor="middle" font-weight="normal" >Reward</text>
<text x="179.4" y="205.3" font-size="14.4" text-anchor="middle" font-weight="normal" >Laser stim</text>
<text x="179.3" y="221.8" font-size="14.4" text-anchor="middle" font-weight="normal" >(20% trials)</text>
<text x="144.6" y="97.7" font-size="10.5" text-anchor="start" font-weight="normal" >Hi-freq</text>
<text x="144.6" y="184.9" font-size="10.5" text-anchor="start" font-weight="normal" >Lo-freq</text>
<rect x="52.95" y="86.6" width="2.65" height="11.9" fill="#e4e4e4"/>
<path d="M52.95,86.6V98.5M55.60000000000001,86.6V98.5" stroke="#333" stroke-width="0.6"/>
<path d="M48.900000000000006,86.6H59.300000000000004Q61.900000000000006,86.6 61.900000000000006,89.19999999999999V100.8Q61.900000000000006,102.3 60.7,101.6L55.5,98.5L52.7,98.5L47.50000000000001,101.6Q46.300000000000004,102.3 46.300000000000004,100.8V89.19999999999999Q46.300000000000004,86.6 48.900000000000006,86.6Z" fill="none" stroke="#000" stroke-width="2.0" stroke-linejoin="round"/>
<path d="M68.0,86.6H78.4Q81.0,86.6 81.0,89.19999999999999V100.8Q81.0,102.3 79.8,101.6L73.2,96.5L66.60000000000001,101.6Q65.4,102.3 65.4,100.8V89.19999999999999Q65.4,86.6 68.0,86.6Z" fill="none" stroke="#000" stroke-width="2.0" stroke-linejoin="round"/>
<rect x="91.15" y="86.6" width="2.65" height="11.9" fill="#e4e4e4"/>
<path d="M91.15,86.6V98.5M93.8,86.6V98.5" stroke="#333" stroke-width="0.6"/>
<path d="M87.1,86.6H97.5Q100.1,86.6 100.1,89.19999999999999V100.8Q100.1,102.3 98.89999999999999,101.6L93.7,98.5L90.9,98.5L85.7,101.6Q84.5,102.3 84.5,100.8V89.19999999999999Q84.5,86.6 87.1,86.6Z" fill="none" stroke="#000" stroke-width="2.0" stroke-linejoin="round"/>
<g transform="translate(69.7,125.0) rotate(6)"><path d="M0,-19.8 C1.9,-19.8 3.2,-17.6 3.6,-15.6 L6.3,-14.9 L5.5,-10.2 C7.2,-7.5 7.5,-3 7.5,1.5 C7.5,7.5 4.3,11.8 0,11.8 C-4.3,11.8 -7.5,7.5 -7.5,1.5 C-7.5,-3 -7.2,-7.5 -5.5,-10.2 L-6.3,-14.9 L-3.6,-15.6 C-3.2,-17.6 -1.9,-19.8 0,-19.8Z" fill="#000" stroke="#000" stroke-width="0.4" stroke-linejoin="round"/><circle cx="-1.8" cy="-15.2" r="0.7" fill="#fff"/><circle cx="1.8" cy="-15.2" r="0.7" fill="#fff"/></g>
<path d="M70.5,136.3 C70.3,138 69.5,139.3 70.2,140.3 C71.2,141.3 73.5,139.8 75.5,139.3 C77.5,138.9 79.5,139.2 80.3,140.2 C80.9,141 81.2,141.7 81.5,142.2" fill="none" stroke="#000" stroke-width="0.8"/>
<path d="M64.3,105.2 C66,105.6 67.2,106.4 68.4,107.6 M64.8,107.3 L68.6,108.2 M79.1,106.1 C77.6,106.6 76.6,107.3 75.7,108.4 M79,108.4 L75.6,108.8" stroke="#9a9a9a" stroke-width="1.1" fill="none"/>
<path d="M53.6,141.6 C56.5,135.5 61,131 67.5,128.4" fill="none" stroke="#b7b7b7" stroke-width="4.2" stroke-linecap="round"/>
<path d="M65.3,127.6 L73.9,127.0 L71.7,118.8 Z" fill="#b7b7b7"/>
<path d="M176.4,27.1H182.4V31.3L184.70000000000002,33.7H174.1L176.4,31.3Z" fill="#c9b200" stroke="#5a5200" stroke-width="0.8" stroke-linejoin="round"/>
<path d="M173.4,35.900000000000006 Q179.4,40.1 185.4,35.900000000000006" fill="none" stroke="#222" stroke-width="1.0"/>
<path d="M176.20000000000002,35.7 Q179.4,37.7 182.6,35.7" fill="none" stroke="#444" stroke-width="0.8"/>
<rect x="158.95" y="42.0" width="2.65" height="11.9" fill="#e4e4e4"/>
<path d="M158.95,42.0V53.9M161.6,42.0V53.9" stroke="#333" stroke-width="0.6"/>
<path d="M154.89999999999998,42.0H165.29999999999998Q167.89999999999998,42.0 167.89999999999998,44.6V56.2Q167.89999999999998,57.7 166.7,57.0L161.49999999999997,53.9L158.7,53.9L153.49999999999997,57.0Q152.29999999999998,57.7 152.29999999999998,56.2V44.6Q152.29999999999998,42.0 154.89999999999998,42.0Z" fill="none" stroke="#000" stroke-width="2.0" stroke-linejoin="round"/>
<path d="M173.99999999999997,42.0H184.39999999999998Q186.99999999999997,42.0 186.99999999999997,44.6V56.2Q186.99999999999997,57.7 185.79999999999998,57.0L179.2,51.9L172.59999999999997,57.0Q171.39999999999998,57.7 171.39999999999998,56.2V44.6Q171.39999999999998,42.0 173.99999999999997,42.0Z" fill="none" stroke="#000" stroke-width="2.0" stroke-linejoin="round"/>
<rect x="197.15" y="42.0" width="2.65" height="11.9" fill="#e4e4e4"/>
<path d="M197.15,42.0V53.9M199.8,42.0V53.9" stroke="#333" stroke-width="0.6"/>
<path d="M193.1,42.0H203.5Q206.1,42.0 206.1,44.6V56.2Q206.1,57.7 204.9,57.0L199.7,53.9L196.9,53.9L191.7,57.0Q190.5,57.7 190.5,56.2V44.6Q190.5,42.0 193.1,42.0Z" fill="none" stroke="#000" stroke-width="2.0" stroke-linejoin="round"/>
<g transform="translate(179.1,75.0) rotate(0)"><path d="M0,-19.8 C1.9,-19.8 3.2,-17.6 3.6,-15.6 L6.3,-14.9 L5.5,-10.2 C7.2,-7.5 7.5,-3 7.5,1.5 C7.5,7.5 4.3,11.8 0,11.8 C-4.3,11.8 -7.5,7.5 -7.5,1.5 C-7.5,-3 -7.2,-7.5 -5.5,-10.2 L-6.3,-14.9 L-3.6,-15.6 C-3.2,-17.6 -1.9,-19.8 0,-19.8Z" fill="#000" stroke="#000" stroke-width="0.4" stroke-linejoin="round"/><circle cx="-1.8" cy="-15.2" r="0.7" fill="#fff"/><circle cx="1.8" cy="-15.2" r="0.7" fill="#fff"/></g>
<path d="M179.2,86.5 C179.3,90 179.8,92.5 181.5,94.5 C182.8,96.2 181.2,98.2 178.6,98.4" fill="none" stroke="#000" stroke-width="0.8"/>
<path d="M176.4,114.2H182.4V118.4L184.70000000000002,120.8H174.1L176.4,118.4Z" fill="#c9b200" stroke="#5a5200" stroke-width="0.8" stroke-linejoin="round"/>
<path d="M173.4,123.0 Q179.4,127.2 185.4,123.0" fill="none" stroke="#222" stroke-width="1.0"/>
<path d="M176.20000000000002,122.8 Q179.4,124.8 182.6,122.8" fill="none" stroke="#444" stroke-width="0.8"/>
<rect x="158.95" y="129.2" width="2.65" height="11.9" fill="#e4e4e4"/>
<path d="M158.95,129.2V141.1M161.6,129.2V141.1" stroke="#333" stroke-width="0.6"/>
<path d="M154.89999999999998,129.2H165.29999999999998Q167.89999999999998,129.2 167.89999999999998,131.79999999999998V143.39999999999998Q167.89999999999998,144.89999999999998 166.7,144.2L161.49999999999997,141.1L158.7,141.1L153.49999999999997,144.2Q152.29999999999998,144.89999999999998 152.29999999999998,143.39999999999998V131.79999999999998Q152.29999999999998,129.2 154.89999999999998,129.2Z" fill="none" stroke="#000" stroke-width="2.0" stroke-linejoin="round"/>
<path d="M173.99999999999997,129.2H184.39999999999998Q186.99999999999997,129.2 186.99999999999997,131.79999999999998V143.39999999999998Q186.99999999999997,144.89999999999998 185.79999999999998,144.2L179.2,139.1L172.59999999999997,144.2Q171.39999999999998,144.89999999999998 171.39999999999998,143.39999999999998V131.79999999999998Q171.39999999999998,129.2 173.99999999999997,129.2Z" fill="none" stroke="#000" stroke-width="2.0" stroke-linejoin="round"/>
<rect x="197.15" y="129.2" width="2.65" height="11.9" fill="#e4e4e4"/>
<path d="M197.15,129.2V141.1M199.8,129.2V141.1" stroke="#333" stroke-width="0.6"/>
<path d="M193.1,129.2H203.5Q206.1,129.2 206.1,131.79999999999998V143.39999999999998Q206.1,144.89999999999998 204.9,144.2L199.7,141.1L196.9,141.1L191.7,144.2Q190.5,144.89999999999998 190.5,143.39999999999998V131.79999999999998Q190.5,129.2 193.1,129.2Z" fill="none" stroke="#000" stroke-width="2.0" stroke-linejoin="round"/>
<g transform="translate(179.1,162.0) rotate(0)"><path d="M0,-19.8 C1.9,-19.8 3.2,-17.6 3.6,-15.6 L6.3,-14.9 L5.5,-10.2 C7.2,-7.5 7.5,-3 7.5,1.5 C7.5,7.5 4.3,11.8 0,11.8 C-4.3,11.8 -7.5,7.5 -7.5,1.5 C-7.5,-3 -7.2,-7.5 -5.5,-10.2 L-6.3,-14.9 L-3.6,-15.6 C-3.2,-17.6 -1.9,-19.8 0,-19.8Z" fill="#000" stroke="#000" stroke-width="0.4" stroke-linejoin="round"/><circle cx="-1.8" cy="-15.2" r="0.7" fill="#fff"/><circle cx="1.8" cy="-15.2" r="0.7" fill="#fff"/></g>
<path d="M179.2,173.5 C179.3,177 179.8,179.5 181.5,181.5 C182.8,183.2 181.2,185.2 178.6,185.4" fill="none" stroke="#000" stroke-width="0.8"/>
<path d="M306.3,29.4 C306.7,31.4 308.6,33.0 308.6,35.199999999999996 A2.3,2.3 0 0 1 304.0,35.199999999999996 C304.0,33.0 305.90000000000003,31.4 306.3,29.4Z" fill="#1c7a8e"/>
<rect x="266.75" y="42.099999999999994" width="2.65" height="11.9" fill="white"/>
<path d="M266.75,42.099999999999994V53.99999999999999M269.40000000000003,42.099999999999994V53.99999999999999" stroke="#333" stroke-width="0.6"/>
<path d="M262.70000000000005,42.099999999999994H273.1Q275.70000000000005,42.099999999999994 275.70000000000005,44.699999999999996V56.3Q275.70000000000005,57.8 274.50000000000006,57.099999999999994L269.3,53.99999999999999L266.5,53.99999999999999L261.3,57.099999999999994Q260.1,57.8 260.1,56.3V44.699999999999996Q260.1,42.099999999999994 262.70000000000005,42.099999999999994Z" fill="none" stroke="#000" stroke-width="2.0" stroke-linejoin="round"/>
<path d="M281.80000000000007,42.099999999999994H292.20000000000005Q294.80000000000007,42.099999999999994 294.80000000000007,44.699999999999996V56.3Q294.80000000000007,57.8 293.6000000000001,57.099999999999994L287.00000000000006,51.99999999999999L280.40000000000003,57.099999999999994Q279.20000000000005,57.8 279.20000000000005,56.3V44.699999999999996Q279.20000000000005,42.099999999999994 281.80000000000007,42.099999999999994Z" fill="none" stroke="#000" stroke-width="2.0" stroke-linejoin="round"/>
<rect x="304.5" y="42.099999999999994" width="3.4" height="12.1" fill="#1d7688"/>
<path d="M300.90000000000003,42.099999999999994H311.3Q313.90000000000003,42.099999999999994 313.90000000000003,44.699999999999996V56.3Q313.90000000000003,57.8 312.70000000000005,57.099999999999994L307.5,53.99999999999999L304.7,53.99999999999999L299.5,57.099999999999994Q298.3,57.8 298.3,56.3V44.699999999999996Q298.3,42.099999999999994 300.90000000000003,42.099999999999994Z" fill="none" stroke="#000" stroke-width="2.0" stroke-linejoin="round"/>
<g transform="translate(306.5,75.3) rotate(1.5)"><path d="M0,-19.8 C1.9,-19.8 3.2,-17.6 3.6,-15.6 L6.3,-14.9 L5.5,-10.2 C7.2,-7.5 7.5,-3 7.5,1.5 C7.5,7.5 4.3,11.8 0,11.8 C-4.3,11.8 -7.5,7.5 -7.5,1.5 C-7.5,-3 -7.2,-7.5 -5.5,-10.2 L-6.3,-14.9 L-3.6,-15.6 C-3.2,-17.6 -1.9,-19.8 0,-19.8Z" fill="#000" stroke="#000" stroke-width="0.4" stroke-linejoin="round"/><circle cx="-1.8" cy="-15.2" r="0.7" fill="#fff"/><circle cx="1.8" cy="-15.2" r="0.7" fill="#fff"/></g>
<path d="M306.9,87 C307.3,89.5 309.2,91 308.9,93.5 C308.6,95.8 307,97.5 305.6,98.6" fill="none" stroke="#000" stroke-width="0.8"/>
<path d="M287.4,72.9 C288.6,76.8 292.5,79.2 298.4,76.6" fill="none" stroke="#b7b7b7" stroke-width="4.2" stroke-linecap="round"/>
<path d="M295.8,73.4 L302.3,79.3 L304.6,69.9 Z" fill="#b7b7b7"/>
<path d="M268.1,116.4 C268.5,118.4 270.40000000000003,120.0 270.40000000000003,122.2 A2.3,2.3 0 0 1 265.8,122.2 C265.8,120.0 267.70000000000005,118.4 268.1,116.4Z" fill="#1c7a8e"/>
<rect x="266.3" y="129.2" width="3.4" height="12.1" fill="#1d7688"/>
<path d="M262.70000000000005,129.2H273.1Q275.70000000000005,129.2 275.70000000000005,131.79999999999998V143.39999999999998Q275.70000000000005,144.89999999999998 274.50000000000006,144.2L269.3,141.1L266.5,141.1L261.3,144.2Q260.1,144.89999999999998 260.1,143.39999999999998V131.79999999999998Q260.1,129.2 262.70000000000005,129.2Z" fill="none" stroke="#000" stroke-width="2.0" stroke-linejoin="round"/>
<path d="M281.80000000000007,129.2H292.20000000000005Q294.80000000000007,129.2 294.80000000000007,131.79999999999998V143.39999999999998Q294.80000000000007,144.89999999999998 293.6000000000001,144.2L287.00000000000006,139.1L280.40000000000003,144.2Q279.20000000000005,144.89999999999998 279.20000000000005,143.39999999999998V131.79999999999998Q279.20000000000005,129.2 281.80000000000007,129.2Z" fill="none" stroke="#000" stroke-width="2.0" stroke-linejoin="round"/>
<rect x="304.95" y="129.2" width="2.65" height="11.9" fill="white"/>
<path d="M304.95,129.2V141.1M307.6,129.2V141.1" stroke="#333" stroke-width="0.6"/>
<path d="M300.90000000000003,129.2H311.3Q313.90000000000003,129.2 313.90000000000003,131.79999999999998V143.39999999999998Q313.90000000000003,144.89999999999998 312.70000000000005,144.2L307.5,141.1L304.7,141.1L299.5,144.2Q298.3,144.89999999999998 298.3,143.39999999999998V131.79999999999998Q298.3,129.2 300.90000000000003,129.2Z" fill="none" stroke="#000" stroke-width="2.0" stroke-linejoin="round"/>
<g transform="translate(267.9,161.9) rotate(-2.5)"><path d="M0,-19.8 C1.9,-19.8 3.2,-17.6 3.6,-15.6 L6.3,-14.9 L5.5,-10.2 C7.2,-7.5 7.5,-3 7.5,1.5 C7.5,7.5 4.3,11.8 0,11.8 C-4.3,11.8 -7.5,7.5 -7.5,1.5 C-7.5,-3 -7.2,-7.5 -5.5,-10.2 L-6.3,-14.9 L-3.6,-15.6 C-3.2,-17.6 -1.9,-19.8 0,-19.8Z" fill="#000" stroke="#000" stroke-width="0.4" stroke-linejoin="round"/><circle cx="-1.8" cy="-15.2" r="0.7" fill="#fff"/><circle cx="1.8" cy="-15.2" r="0.7" fill="#fff"/></g>
<path d="M267.6,173.5 C268,175.8 270.5,177.5 270.6,180 C270.7,182.5 268.6,184.6 267.1,185.6" fill="none" stroke="#000" stroke-width="0.8"/>
<path d="M287.4,158.8 C287,163.5 282,167 277.0,164.2" fill="none" stroke="#b7b7b7" stroke-width="4.2" stroke-linecap="round"/>
<path d="M270.4,157.3 L279.3,160.0 L273.8,166.6 Z" fill="#b7b7b7"/>
</svg>
</body></html>
